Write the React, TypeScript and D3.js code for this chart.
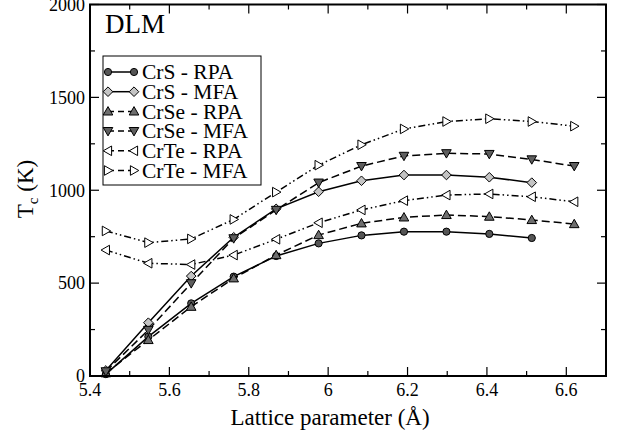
import React from 'react';
import * as d3 from 'd3';

const latticeA = [5.44, 5.547, 5.655, 5.762, 5.869, 5.976, 6.084, 6.191, 6.298, 6.406, 6.513, 6.62];
const crsRPA = [10, 212, 391, 535, 646, 714, 757, 777, 777, 765, 743];
const crsMFA = [30, 287, 538, 747, 900, 992, 1051, 1082, 1082, 1070, 1041];
const crseRPA = [15, 194, 373, 526, 651, 759, 822, 854, 867, 858, 840, 818];
const crseMFA = [25, 248, 499, 741, 894, 1041, 1130, 1185, 1199, 1195, 1166, 1130];
const crteRPA = [678, 607, 600, 651, 736, 825, 894, 944, 974, 980, 965, 938];
const crteMFA = [781, 718, 738, 843, 990, 1135, 1245, 1330, 1370, 1385, 1370, 1345];

const xMajor = [5.4, 5.6, 5.8, 6.0, 6.2, 6.4, 6.6];
const xMinor = [5.5, 5.7, 5.9, 6.1, 6.3, 6.5];
const yMajor = [0, 500, 1000, 1500, 2000];
const yMinor = [250, 750, 1250, 1750];

type Series = { name: string; values: number[]; marker: string; fill: string; dash: string };
const series: Series[] = [
  { name: 'CrS - RPA', values: crsRPA, marker: 'circle', fill: '#555', dash: '' },
  { name: 'CrS - MFA', values: crsMFA, marker: 'diamond', fill: '#c4c4c4', dash: '' },
  { name: 'CrSe - RPA', values: crseRPA, marker: 'up', fill: '#6e6e6e', dash: '8,4' },
  { name: 'CrSe - MFA', values: crseMFA, marker: 'down', fill: '#5e5e5e', dash: '8,4' },
  { name: 'CrTe - RPA', values: crteRPA, marker: 'left', fill: '#fff', dash: '7,3,1.5,3,1.5,3' },
  { name: 'CrTe - MFA', values: crteMFA, marker: 'right', fill: '#fff', dash: '7,3,1.5,3,1.5,3' },
];

const L = 90, R = 606, T = 4.5, B = 376;
const x = d3.scaleLinear().domain([5.4, 6.7]).range([L, R]);
const y = d3.scaleLinear().domain([0, 2000]).range([B, T]);
const font = "'Liberation Serif', 'Times New Roman', Times, serif";

function markerPath(kind: string, cx: number, cy: number): string {
  const s = 4.8;
  let d = '';
  if (kind === 'diamond') d = `M${cx},${cy - s}L${cx + s},${cy}L${cx},${cy + s}L${cx - s},${cy}Z`;
  if (kind === 'up') d = `M${cx},${cy - s}L${cx + s},${cy + s * 0.75}L${cx - s},${cy + s * 0.75}Z`;
  if (kind === 'down') d = `M${cx},${cy + s}L${cx + s},${cy - s * 0.75}L${cx - s},${cy - s * 0.75}Z`;
  if (kind === 'left') d = `M${cx - s},${cy}L${cx + s * 0.75},${cy - s}L${cx + s * 0.75},${cy + s}Z`;
  if (kind === 'right') d = `M${cx + s},${cy}L${cx - s * 0.75},${cy - s}L${cx - s * 0.75},${cy + s}Z`;
  return d;
}

function Marker({ kind, cx, cy, fill }: { kind: string; cx: number; cy: number; fill: string }) {
  if (kind === 'circle') return <circle cx={cx} cy={cy} r={3.6} fill={fill} stroke="#000" strokeWidth={1} />;
  return <path d={markerPath(kind, cx, cy)} fill={fill} stroke="#000" strokeWidth={1} />;
}

export default function App() {
  const line = d3.line<number>().x((_, i) => x(latticeA[i])).y((v) => y(v));
  const ts = (size: number): React.CSSProperties => ({ fontFamily: font, fontSize: size });
  return (
    <svg width={621} height={433} style={{ position: 'absolute', left: 0, top: 0, background: '#fff' }}>
      {series.map((s) => (
        <g key={s.name}>
          <path d={line(s.values) || ''} fill="none" stroke="#000" strokeWidth={1.5} strokeDasharray={s.dash} />
          {s.values.map((v, i) => (
            <Marker key={i} kind={s.marker} cx={x(latticeA[i])} cy={y(v)} fill={s.fill} />
          ))}
        </g>
      ))}
      <rect x={L} y={T} width={R - L} height={B - T} fill="none" stroke="#000" strokeWidth={2} />
      {xMajor.map((t) => (
        <g key={'xM' + t}>
          <line x1={x(t)} x2={x(t)} y1={B} y2={B - 9} stroke="#000" strokeWidth={1.2} />
          <line x1={x(t)} x2={x(t)} y1={T} y2={T + 9} stroke="#000" strokeWidth={1.2} />
          <text x={x(t)} y={396} textAnchor="middle" style={ts(18)}>{d3.format('~g')(t)}</text>
        </g>
      ))}
      {xMinor.map((t) => (
        <g key={'xm' + t}>
          <line x1={x(t)} x2={x(t)} y1={B} y2={B - 5} stroke="#000" strokeWidth={1.2} />
          <line x1={x(t)} x2={x(t)} y1={T} y2={T + 5} stroke="#000" strokeWidth={1.2} />
        </g>
      ))}
      {yMajor.map((t) => (
        <g key={'yM' + t}>
          <line x1={L} x2={L + 9} y1={y(t)} y2={y(t)} stroke="#000" strokeWidth={1.2} />
          <line x1={R} x2={R - 9} y1={y(t)} y2={y(t)} stroke="#000" strokeWidth={1.2} />
          <text x={85} y={y(t)} dy="0.35em" textAnchor="end" style={ts(18)}>{t}</text>
        </g>
      ))}
      {yMinor.map((t) => (
        <g key={'ym' + t}>
          <line x1={L} x2={L + 5} y1={y(t)} y2={y(t)} stroke="#000" strokeWidth={1.2} />
          <line x1={R} x2={R - 5} y1={y(t)} y2={y(t)} stroke="#000" strokeWidth={1.2} />
        </g>
      ))}
      <text x={330} y={425} textAnchor="middle" style={ts(23)}>Lattice parameter (Å)</text>
      <text transform="translate(33,189) rotate(-90)" textAnchor="middle" style={ts(23)}>
        T<tspan style={{ fontSize: 15 }} dy={5}>c</tspan><tspan dy={-5}> (K)</tspan>
      </text>
      <text x={105} y={33} style={ts(27)}>DLM</text>
      <rect x={103} y={56} width={158} height={129} fill="#fff" stroke="#000" strokeWidth={1} />
      {series.map((s, i) => {
        const cy = 72 + i * 19.7;
        return (
          <g key={'lg' + s.name}>
            <line x1={108} x2={134} y1={cy} y2={cy} stroke="#000" strokeWidth={1.5} strokeDasharray={s.dash ? '6,4' : ''} />
            <Marker kind={s.marker} cx={108} cy={cy} fill={s.fill} />
            <Marker kind={s.marker} cx={134} cy={cy} fill={s.fill} />
            <text x={142} y={cy} dy="0.34em" style={ts(21.5)}>{s.name}</text>
          </g>
        );
      })}
    </svg>
  );
}
